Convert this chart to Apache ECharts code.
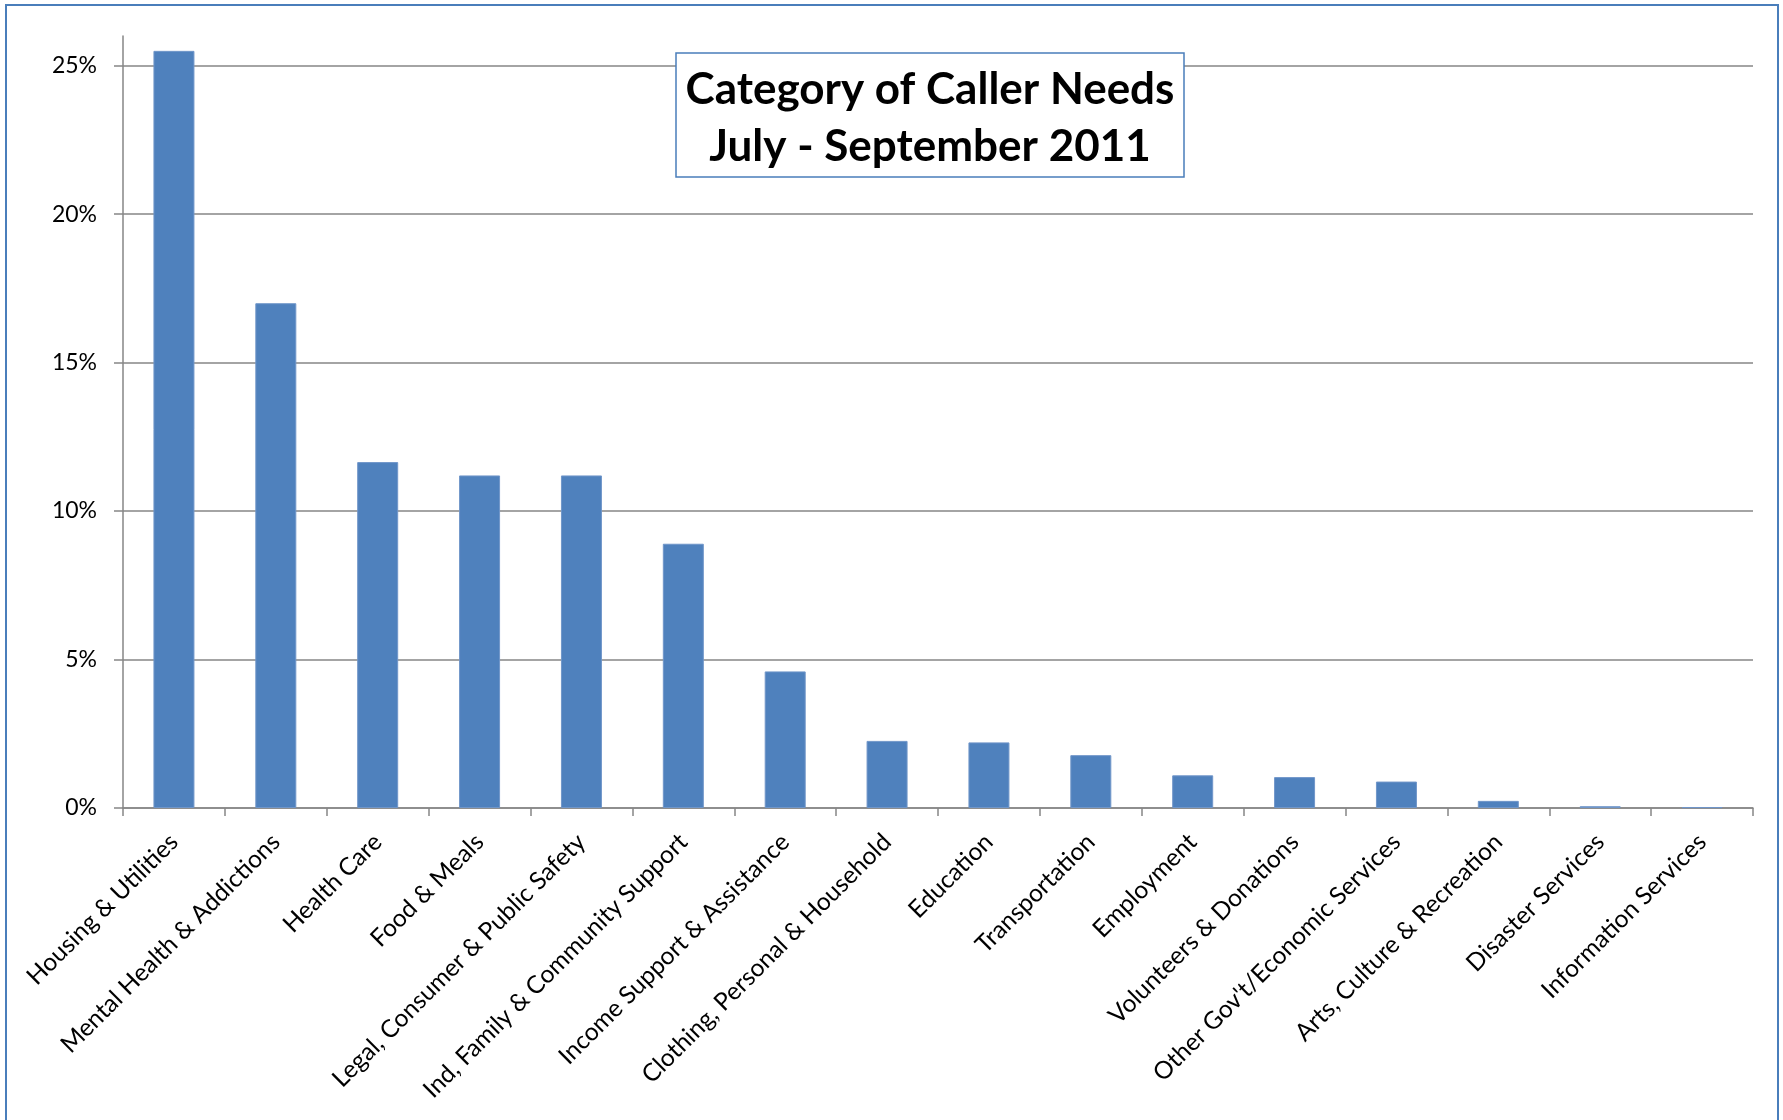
<!DOCTYPE html>
<html>
<head>
<meta charset="utf-8">
<script src="https://cdn.jsdelivr.net/npm/echarts@6/dist/echarts.min.js"></script>
<style>
html,body{margin:0;padding:0;background:#fff;}
#chart{position:absolute;left:0;top:0;width:1783px;height:1120px;}
#frame{position:absolute;left:5px;top:4px;width:1774px;height:1200px;border:2px solid #4A7EBB;pointer-events:none;box-sizing:border-box;}
</style>
</head>
<body>
<div id="chart"></div>
<div id="frame"></div>
<script>
const categories = [
  "Housing & Utilities",
  "Mental Health & Addictions",
  "Health Care",
  "Food & Meals",
  "Legal, Consumer & Public Safety",
  "Ind, Family & Community Support",
  "Income Support & Assistance",
  "Clothing, Personal & Household",
  "Education",
  "Transportation",
  "Employment",
  "Volunteers & Donations",
  "Other Gov't/Economic Services",
  "Arts, Culture & Recreation",
  "Disaster Services",
  "Information Services"
];
const values = [25.5, 17.0, 11.65, 11.2, 11.2, 8.9, 4.6, 2.26, 2.21, 1.78, 1.1, 1.04, 0.89, 0.24, 0.06, 0.03];
const yTicks = [0, 5, 10, 15, 20, 25];
const titleLines = ["Category of Caller Needs", "July - September 2011"];

const chart = echarts.init(document.getElementById('chart'));
const FONT = 'Lato, "Noto Sans", sans-serif';
chart.setOption({
  animation: false,
  backgroundColor: '#fff',
  title: {
    text: titleLines.join('\n'),
    left: 920,
    top: 53,
    textAlign: 'center',
    padding: [8, 10, 2, 10],
    borderColor: '#4A7EBB',
    borderWidth: 1.5,
    backgroundColor: '#fff',
    textStyle: {
      fontFamily: FONT,
      fontWeight: 'bold',
      fontSize: 44,
      lineHeight: 57,
      color: '#000'
    },
    z: 10
  },
  grid: {
    left: 123,
    right: 30,
    top: 36,
    bottom: 312,
    containLabel: false
  },
  xAxis: {
    type: 'category',
    data: categories,
    axisLine: { lineStyle: { color: '#868686', width: 1.5 } },
    axisTick: { show: true, length: 8, alignWithLabel: false, lineStyle: { color: '#868686', width: 1.5 } },
    axisLabel: {
      rotate: 45,
      interval: 0,
      margin: 30,
      fontFamily: FONT,
      fontSize: 24.5,
      color: '#000'
    },
    splitLine: { show: false }
  },
  yAxis: {
    type: 'value',
    min: 0,
    max: 26,
    interval: 5,
    axisLine: { show: true, lineStyle: { color: '#868686', width: 1.5 } },
    axisTick: { show: true, length: 9, customValues: yTicks, lineStyle: { color: '#868686', width: 1.5 } },
    axisLabel: {
      customValues: yTicks,
      margin: 26,
      fontFamily: FONT,
      fontSize: 23,
      color: '#000',
      formatter: v => (v % 5 === 0 ? v + '%' : '')
    },
    splitLine: {
      show: true,
      lineStyle: {
        color: ['#868686', '#868686', '#868686', '#868686', '#868686', '#868686', 'rgba(0,0,0,0)'],
        width: 1.5
      }
    }
  },
  series: [{
    type: 'bar',
    data: values,
    barWidth: 41,
    itemStyle: { color: '#4F81BD', borderColor: '#7096C9', borderWidth: 1 }
  }]
});
</script>
</body>
</html>
